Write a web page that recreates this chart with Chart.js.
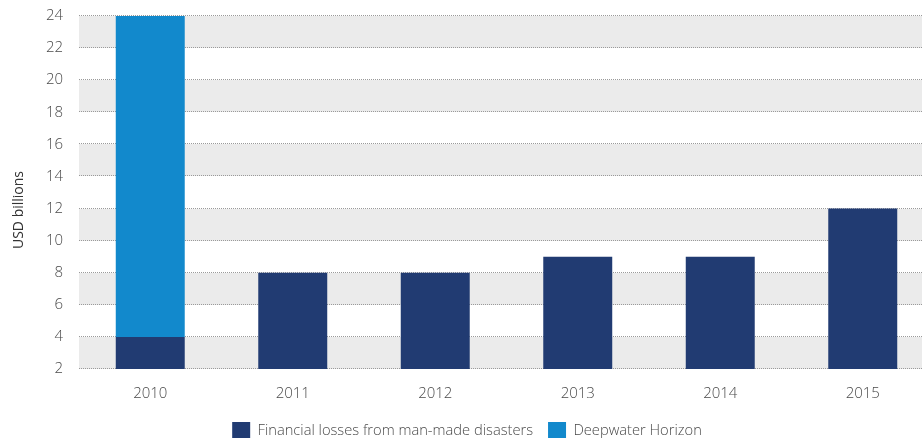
<!DOCTYPE html>
<html>
<head>
<meta charset="utf-8">
<script src="https://cdn.jsdelivr.net/npm/chart.js@4"></script>
<style>
  html, body { margin: 0; padding: 0; background: #fff; overflow: hidden; }
  #wrap { position: relative; top: -9px; width: 934px; height: 459px; }
</style>
</head>
<body>
<div id="wrap"><canvas id="losses"></canvas></div>
<script>
var years = ['2010', '2011', '2012', '2013', '2014', '2015'];
var manMade = [4, 8, 8, 9, 9, 12];
var deepwater = [20, 0, 0, 0, 0, 0];
var seriesNames = ['Financial losses from man-made disasters', 'Deepwater Horizon'];
var yTicks = [2, 4, 6, 8, 10, 12, 14, 16, 18, 20, 22, 24];
var yTitle = 'USD billions';

var darkBlue = '#213b72';
var lightBlue = '#1289cc';
var bandGrey = '#ebebeb';
var textCol = '#4a4a4a';
var fontName = "'Open Sans', 'Liberation Sans', sans-serif";

// grey stripe behind every other gap between y ticks, dotted rules on each tick
var stripes = {
	id: 'stripes',
	beforeDatasetsDraw: function(chart) {
		var ctx = chart.ctx;
		var area = chart.chartArea;
		var y = chart.scales.y;
		ctx.save();
		ctx.fillStyle = bandGrey;
		for (var i = 0; i < yTicks.length - 1; i += 2) {
			var top = Math.round(y.getPixelForValue(yTicks[i + 1]));
			var bot = Math.round(y.getPixelForValue(yTicks[i]));
			ctx.fillRect(area.left, top, area.right - area.left, bot - top);
		}
		ctx.strokeStyle = '#9a9a9a';
		ctx.lineWidth = 1;
		ctx.setLineDash([1, 1]);
		for (var j = 0; j < yTicks.length; j++) {
			var py = Math.round(y.getPixelForValue(yTicks[j])) - 0.5;
			ctx.beginPath();
			ctx.moveTo(area.left, py);
			ctx.lineTo(area.right, py);
			ctx.stroke();
		}
		ctx.restore();
	},
	afterDraw: function(chart) {
		// axis title sits a little below the middle of the plot
		var ctx = chart.ctx;
		ctx.save();
		ctx.translate(19, 219);
		ctx.rotate(-Math.PI / 2);
		ctx.fillStyle = '#333';
		ctx.font = '14px ' + fontName;
		ctx.textAlign = 'center';
		ctx.textBaseline = 'middle';
		ctx.fillText(yTitle, 0, 0);
		ctx.restore();
	}
};

var ctx = document.getElementById('losses').getContext('2d');
var chart = new Chart(ctx, {
	type: 'bar',
	data: {
		labels: years,
		datasets: [{
			label: seriesNames[0],
			data: manMade,
			backgroundColor: darkBlue,
			categoryPercentage: 1,
			barPercentage: 0.484
		}, {
			label: seriesNames[1],
			data: deepwater,
			backgroundColor: lightBlue,
			categoryPercentage: 1,
			barPercentage: 0.484
		}]
	},
	options: {
		responsive: true,
		maintainAspectRatio: false,
		animation: false,
		layout: { padding: 0 },
		plugins: {
			tooltip: { enabled: false },
			legend: {
				position: 'bottom',
				labels: {
					boxWidth: 18,
					boxHeight: 18,
					padding: 15,
					color: textCol,
					font: { family: fontName, size: 14.7, weight: '300' }
				}
			}
		},
		scales: {
			x: {
				stacked: true,
				grid: { display: false, drawTicks: false },
				border: { display: false },
				afterFit: function(axis) { axis.height = 38; },
				ticks: {
					color: textCol,
					padding: 16,
					font: { family: fontName, size: 15, weight: '300' }
				}
			},
			y: {
				stacked: true,
				min: 2,
				max: 24,
				afterBuildTicks: function(axis) {
					axis.ticks = yTicks.map(function(v) { return { value: v }; });
				},
				afterFit: function(axis) { axis.width = 79; },
				grid: { display: false, drawTicks: false },
				border: { display: false },
				ticks: {
					color: textCol,
					padding: 16,
					font: { family: fontName, size: 15, weight: '300' }
				}
			}
		}
	},
	plugins: [stripes]
});
</script>
</body>
</html>
